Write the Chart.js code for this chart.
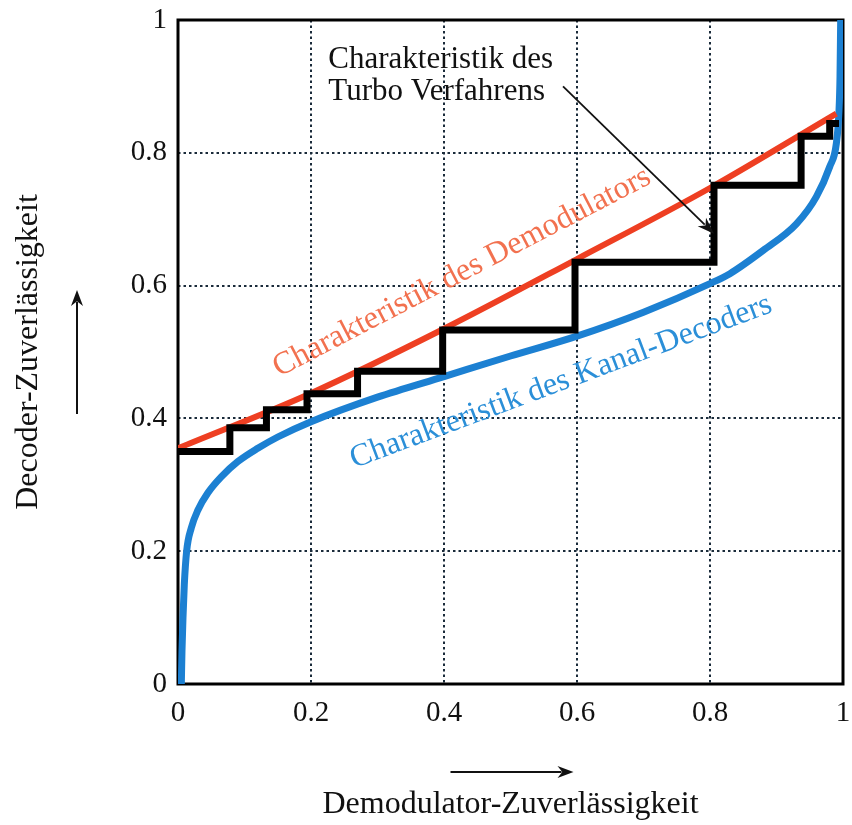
<!DOCTYPE html>
<html>
<head>
<meta charset="utf-8">
<script src="https://cdn.jsdelivr.net/npm/chart.js@4.4.1/dist/chart.umd.min.js"></script>
<style>
  html, body { margin: 0; padding: 0; background: #ffffff; }
  #wrap { width: 852px; height: 825px; }
</style>
</head>
<body>
<div id="wrap"><canvas id="c" width="852" height="825"></canvas></div>
<script>
// ---- data ----
const xTickLabels = ["0", "0.2", "0.4", "0.6", "0.8", "1"];
const yTickLabels = ["0", "0.2", "0.4", "0.6", "0.8", "1"];

// Demodulator characteristic (red)
const demodX = [0, 0.2, 0.4, 0.6, 0.8, 0.99];
const demodY = [0.355, 0.438, 0.535, 0.64, 0.747, 0.859];

// Channel decoder characteristic (blue)
const decX = [0.005, 0.006, 0.0075, 0.0095, 0.013, 0.02, 0.03, 0.045, 0.065, 0.09, 0.12, 0.15, 0.2, 0.3, 0.4, 0.5, 0.6, 0.7, 0.8, 0.83, 0.88, 0.93, 0.96, 0.98, 0.99, 0.994, 0.9955, 0.9965];
const decY = [0.0, 0.05, 0.1, 0.15, 0.2, 0.235, 0.262, 0.288, 0.312, 0.335, 0.355, 0.372, 0.395, 0.432, 0.463, 0.494, 0.524, 0.56, 0.603, 0.618, 0.653, 0.693, 0.734, 0.779, 0.814, 0.864, 0.915, 1.0];

// Turbo trajectory (black staircase corners)
const turboX = [0, 0.078, 0.078, 0.133, 0.133, 0.194, 0.194, 0.27, 0.27, 0.398, 0.398, 0.597, 0.597, 0.806, 0.806, 0.937, 0.937, 0.98, 0.98, 0.994];
const turboY = [0.35, 0.35, 0.386, 0.386, 0.413, 0.413, 0.437, 0.437, 0.471, 0.471, 0.533, 0.533, 0.635, 0.635, 0.751, 0.751, 0.825, 0.825, 0.844, 0.844];

const xTitle = "Demodulator-Zuverlässigkeit";
const yTitle = "Decoder-Zuverlässigkeit";
const turboLabel = ["Charakteristik des", "Turbo Verfahrens"];
const demodLabel = "Charakteristik des Demodulators";
const decLabel = "Charakteristik des Kanal-Decoders";

const toPts = (xs, ys) => xs.map((x, i) => ({ x: x, y: ys[i] }));

const SERIF = '"Liberation Serif", "DejaVu Serif", serif';

const annotations = {
  id: 'annotations',
  beforeDatasetsDraw(chart) {
    const { ctx, chartArea: a } = chart;
    ctx.save();
    ctx.strokeStyle = '#000';
    ctx.lineWidth = 3;
    ctx.strokeRect(a.left, a.top, a.right - a.left, a.bottom - a.top);
    ctx.restore();
  },
  afterDraw(chart) {
    const { ctx, chartArea: a } = chart;
    const xs = chart.scales.x, ys = chart.scales.y;
    const px = v => xs.getPixelForValue(v);
    const py = v => ys.getPixelForValue(v);
    ctx.save();
    // black annotation
    ctx.font = '31px ' + SERIF;
    ctx.fillStyle = '#111';
    ctx.textAlign = 'left';
    ctx.textBaseline = 'alphabetic';
    ctx.fillText(turboLabel[0], px(0.226), py(0.927));
    ctx.fillText(turboLabel[1], px(0.226), py(0.879));
    // annotation arrow
    drawArrow(ctx, px(0.579), py(0.9), px(0.806), py(0.678), 1.8, 17, 6);
    ctx.font = '32px ' + SERIF;
    // red rotated label
    ctx.save();
    ctx.translate(px(0.427), py(0.62));
    ctx.rotate(-27.5 * Math.PI / 180);
    ctx.fillStyle = '#f2714f';
    ctx.textAlign = 'center';
    ctx.textBaseline = 'middle';
    ctx.fillText(demodLabel, 0, 0);
    ctx.restore();
    // blue rotated label
    ctx.save();
    ctx.translate(px(0.576), py(0.455));
    ctx.rotate(-20.5 * Math.PI / 180);
    ctx.fillStyle = '#2b8fd8';
    ctx.textAlign = 'center';
    ctx.textBaseline = 'middle';
    ctx.fillText(decLabel, 0, 0);
    ctx.restore();
    // axis arrows
    const midY = (a.top + a.bottom) / 2;
    drawArrow(ctx, 77, midY + 62, 77, midY - 62, 2, 16, 6);
    const midX = (a.left + a.right) / 2;
    drawArrow(ctx, midX - 60, a.bottom + 88, midX + 63, a.bottom + 88, 2, 16, 6);
    ctx.restore();
  }
};

function drawArrow(ctx, x1, y1, x2, y2, w, headLen, headW) {
  const ang = Math.atan2(y2 - y1, x2 - x1);
  const bx = x2 - headLen * Math.cos(ang), by = y2 - headLen * Math.sin(ang);
  ctx.save();
  ctx.strokeStyle = '#111';
  ctx.fillStyle = '#111';
  ctx.lineWidth = w;
  ctx.beginPath();
  ctx.moveTo(x1, y1);
  ctx.lineTo(bx + 4 * Math.cos(ang), by + 4 * Math.sin(ang));
  ctx.stroke();
  ctx.beginPath();
  ctx.moveTo(x2, y2);
  ctx.lineTo(bx + headW * Math.sin(ang), by - headW * Math.cos(ang));
  ctx.lineTo(bx + headLen * 0.3 * Math.cos(ang), by + headLen * 0.3 * Math.sin(ang));
  ctx.lineTo(bx - headW * Math.sin(ang), by + headW * Math.cos(ang));
  ctx.closePath();
  ctx.fill();
  ctx.restore();
}

const gridColor = ctx => (ctx.tick && (ctx.tick.value === 0 || ctx.tick.value === 1)) ? 'rgba(0,0,0,0)' : '#1a2b3a';

new Chart(document.getElementById('c'), {
  type: 'scatter',
  data: {
    datasets: [
      {
        label: 'Turbo',
        data: toPts(turboX, turboY),
        showLine: true,
        borderColor: '#000000',
        borderWidth: 7,
        pointRadius: 0,
        borderJoinStyle: 'miter',
        borderCapStyle: 'butt',
        tension: 0
      },
      {
        label: 'Demodulator',
        data: toPts(demodX, demodY),
        showLine: true,
        borderColor: '#ee3f22',
        borderWidth: 6,
        pointRadius: 0,
        cubicInterpolationMode: 'monotone'
      },
      {
        label: 'Kanal-Decoder',
        data: toPts(decX, decY),
        showLine: true,
        borderColor: '#1c80d2',
        borderWidth: 7,
        pointRadius: 0,
        cubicInterpolationMode: 'monotone'
      }
    ]
  },
  options: {
    responsive: false,
    animation: false,
    events: [],
    layout: { padding: { top: 20, right: 9, left: 0, bottom: 0 } },
    plugins: { legend: { display: false }, tooltip: { enabled: false } },
    scales: {
      x: {
        type: 'linear',
        min: 0, max: 1,
        afterFit: s => { s.height = 141; s.paddingLeft = 0; s.paddingRight = 0; },
        border: { display: false, dash: [2.5, 3] },
        grid: { color: gridColor, lineWidth: 2, drawTicks: false },
        ticks: {
          stepSize: 0.2,
          padding: 12,
          color: '#111',
          font: { family: SERIF, size: 29 },
          maxRotation: 0,
          callback: (v, i) => xTickLabels[i]
        },
        title: { display: true, text: xTitle, color: '#111', font: { family: SERIF, size: 32 }, padding: { top: 0, bottom: 1 } }
      },
      y: {
        type: 'linear',
        min: 0, max: 1,
        afterFit: s => { s.width = 178; s.paddingTop = 0; s.paddingBottom = 0; },
        border: { display: false, dash: [2.5, 3] },
        grid: { color: gridColor, lineWidth: 2, drawTicks: false },
        ticks: {
          stepSize: 0.2,
          padding: 11,
          color: '#111',
          font: { family: SERIF, size: 29 },
          callback: (v, i) => yTickLabels[i]
        },
        title: { display: true, text: yTitle, color: '#111', font: { family: SERIF, size: 32 }, padding: { top: 9, bottom: 0 } }
      }
    }
  },
  plugins: [annotations]
});
</script>
</body>
</html>
